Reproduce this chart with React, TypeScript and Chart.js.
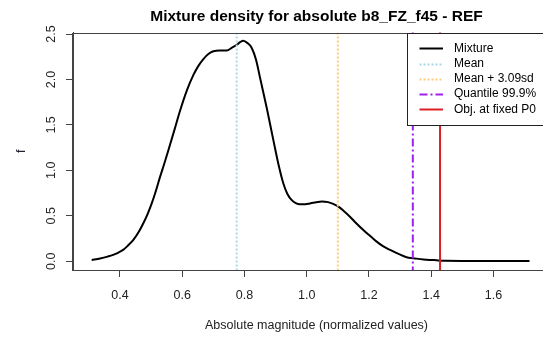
import React, { useEffect, useRef } from "react";
import { Chart, registerables } from "chart.js";

Chart.register(...registerables);

const TITLE = "Mixture density for absolute b8_FZ_f45 - REF";
const X_LABEL = "Absolute magnitude (normalized values)";
const Y_LABEL = "f";

const densityX = [
  0.309, 0.336, 0.36, 0.378, 0.395, 0.41, 0.425, 0.443, 0.46, 0.475, 0.49, 0.502, 0.515, 0.528,
  0.542, 0.555, 0.575, 0.593, 0.615, 0.636, 0.652, 0.668, 0.684, 0.7, 0.72, 0.743, 0.76, 0.775,
  0.786, 0.796, 0.81, 0.823, 0.837, 0.85, 0.872, 0.893, 0.909, 0.925, 0.938, 0.952, 0.965, 0.978,
  0.995, 1.011, 1.03, 1.048, 1.069, 1.085, 1.102, 1.12, 1.139, 1.16, 1.182, 1.205, 1.225, 1.245,
  1.268, 1.295, 1.321, 1.343, 1.375, 1.41, 1.445, 1.5, 1.6, 1.716,
];
const densityY = [
  0.014, 0.03, 0.05, 0.069, 0.095, 0.124, 0.17, 0.234, 0.32, 0.417, 0.53, 0.636, 0.77, 0.92,
  1.07, 1.215, 1.445, 1.655, 1.88, 2.05, 2.15, 2.225, 2.28, 2.31, 2.32, 2.32, 2.35, 2.38,
  2.41, 2.425, 2.4, 2.35, 2.22, 2.02, 1.68, 1.33, 1.07, 0.855, 0.74, 0.672, 0.64, 0.628,
  0.628, 0.636, 0.648, 0.658, 0.65, 0.63, 0.6, 0.55, 0.49, 0.415, 0.343, 0.275, 0.215, 0.165,
  0.124, 0.08, 0.044, 0.033, 0.018, 0.012, 0.004, 0.003, 0.003, 0.003,
];

const xTicks = [0.4, 0.6, 0.8, 1.0, 1.2, 1.4, 1.6];
const yTicks = [0, 0.5, 1.0, 1.5, 2.0, 2.5];

const meanValue = 0.775;
const meanPlusSdValue = 1.1;
const quantileValue = 1.341;
const objFixedP0Value = 1.4285;

const legendLabels = ["Mixture", "Mean", "Mean + 3.09sd", "Quantile 99.9%", "Obj. at fixed P0"];

const X_MIN = 0.249;
const X_MAX = 1.814;
const Y_MIN = -0.097;
const Y_MAX = 2.517;

const FONT = "'Liberation Sans', Arial, sans-serif";

function vline(v: number) {
  return [
    { x: v, y: Y_MIN - 0.05 },
    { x: v, y: Y_MAX + 0.05 },
  ];
}

const boxAndLegend = {
  id: "boxAndLegend",
  afterDraw(chart: any) {
    const { ctx, chartArea } = chart;
    ctx.save();
    ctx.strokeStyle = "#444";
    ctx.lineWidth = 1;
    ctx.strokeRect(
      Math.round(chartArea.left) - 0.5,
      Math.round(chartArea.top) + 0.5,
      chartArea.right - chartArea.left + 2,
      Math.round(chartArea.bottom) - Math.round(chartArea.top)
    );
    // legend
    const left = 407.5;
    const top = Math.round(chartArea.top) + 0.5;
    const bottom = 125.5;
    ctx.fillStyle = "#fff";
    ctx.fillRect(left, top, chart.width - left + 5, bottom - top);
    ctx.strokeStyle = "#222";
    ctx.strokeRect(left, top, chart.width - left + 5, bottom - top);
    const ds = chart.data.datasets;
    ctx.font = `12px ${FONT}`;
    ctx.textBaseline = "middle";
    ctx.textAlign = "left";
    for (let i = 0; i < ds.length; i++) {
      const y = 48.3 + i * 15.25;
      ctx.beginPath();
      ctx.setLineDash(ds[i].borderDash || []);
      ctx.strokeStyle = ds[i].borderColor;
      ctx.lineWidth = ds[i].borderWidth;
      ctx.moveTo(419.5, Math.round(y) + 0.5);
      ctx.lineTo(443, Math.round(y) + 0.5);
      ctx.stroke();
      ctx.setLineDash([]);
      ctx.fillStyle = "#000";
      ctx.fillText(ds[i].label, 454, y);
    }
    ctx.restore();
  },
};

export default function App() {
  const ref = useRef<HTMLCanvasElement | null>(null);
  useEffect(() => {
    if (!ref.current) return;
    const chart = new Chart(ref.current, {
      type: "scatter",
      data: {
        datasets: [
          {
            label: legendLabels[0],
            data: densityX.map((x, i) => ({ x, y: densityY[i] })),
            showLine: true,
            borderColor: "#000",
            borderWidth: 2,
            pointRadius: 0,
            cubicInterpolationMode: "monotone",
            order: 5,
          },
          {
            label: legendLabels[1],
            data: vline(meanValue),
            showLine: true,
            borderColor: "#A8D8E8",
            borderWidth: 2,
            borderDash: [2, 2],
            pointRadius: 0,
            order: 4,
          },
          {
            label: legendLabels[2],
            data: vline(meanPlusSdValue),
            showLine: true,
            borderColor: "#FFCC77",
            borderWidth: 2,
            borderDash: [2, 2],
            pointRadius: 0,
            order: 3,
          },
          {
            label: legendLabels[3],
            data: vline(quantileValue),
            showLine: true,
            borderColor: "#A020F0",
            borderWidth: 2,
            borderDash: [8, 3, 2, 3],
            pointRadius: 0,
            order: 2,
          },
          {
            label: legendLabels[4],
            data: vline(objFixedP0Value),
            showLine: true,
            borderColor: "#DC1F26",
            borderWidth: 2,
            pointRadius: 0,
            order: 1,
          },
        ],
      },
      options: {
        responsive: false,
        animation: false,
        events: [],
        layout: { padding: { left: 0, right: 0, top: 0, bottom: 0 } },
        plugins: {
          legend: { display: false },
          tooltip: { enabled: false },
          title: {
            display: true,
            text: TITLE,
            color: "#000",
            fullSize: false,
            font: { family: FONT, size: 15.5, weight: "bold" },
            padding: { top: 7, bottom: 6.9 },
          },
        },
        scales: {
          x: {
            type: "linear",
            min: X_MIN,
            max: X_MAX,
            afterBuildTicks: (s: any) => {
              s.ticks = xTicks.map((v) => ({ value: v }));
            },
            afterFit: (s: any) => {
              s.height = 68;
            },
            ticks: {
              callback: (v: any) => Number(v).toFixed(1),
              color: "#222",
              font: { family: FONT, size: 12.5 },
              padding: 11,
              maxRotation: 0,
              autoSkip: false,
            },
            grid: { display: true, drawOnChartArea: false, drawTicks: true, tickLength: 7, color: "#444" },
            border: { display: true, color: "#444" },
            title: {
              display: true,
              text: X_LABEL,
              color: "#222",
              font: { family: FONT, size: 12.5 },
              padding: { top: 0, bottom: 4.5 },
            },
          },
          y: {
            type: "linear",
            min: Y_MIN,
            max: Y_MAX,
            afterBuildTicks: (s: any) => {
              s.ticks = yTicks.map((v) => ({ value: v }));
            },
            afterFit: (s: any) => {
              s.width = 73;
            },
            ticks: {
              callback: (v: any) => Number(v).toFixed(1),
              color: "#222",
              font: { family: FONT, size: 12.5 },
              padding: 5.5,
              minRotation: 90,
              maxRotation: 90,
              crossAlign: "center",
              autoSkip: false,
            },
            grid: { display: true, drawOnChartArea: false, drawTicks: true, tickLength: 7, color: "#444" },
            border: { display: true, color: "#444" },
            title: {
              display: true,
              text: Y_LABEL,
              color: "#223",
              font: { family: FONT, size: 12.5 },
              padding: { top: 14, bottom: 0 },
            },
          },
        },
      } as any,
      plugins: [boxAndLegend],
    });
    return () => chart.destroy();
  }, []);

  return (
    <div
      style={{
        position: "fixed",
        left: 0,
        top: 0,
        width: 543,
        height: 338,
        overflow: "hidden",
        background: "#fff",
      }}
    >
      <canvas ref={ref} width={560} height={338} style={{ width: 560, height: 338, display: "block" }} />
    </div>
  );
}
